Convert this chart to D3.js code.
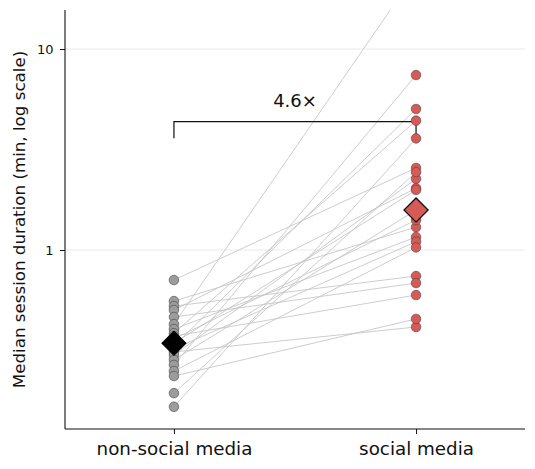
<!DOCTYPE html>
<html>
<head>
<meta charset="utf-8">
<script src="https://cdn.jsdelivr.net/npm/d3@7"></script>
<style>
  body { margin: 0; background: #fff; }
  svg text { font-family: "DejaVu Sans", sans-serif; fill: #111; }
</style>
</head>
<body>
<div id="chart"></div>
<script>
// groups on the x axis
const groups = ["non-social media", "social media"];

// paired medians per participant (minutes), same order in both arrays
const nonSocial = [0.709, 0.557, 0.526, 0.503, 0.464, 0.428, 0.404, 0.386, 0.373, 0.361, 0.344,
                   0.333, 0.322, 0.311, 0.300, 0.284, 0.268, 0.250, 0.236, 0.194, 0.166];
const social    = [2.56, 1.30, 0.742, 2.03, 0.685, 24.0, 1.16, 4.40, 0.597, 1.41, 1.99,
                   5.03, 1.10, 0.414, 2.26, 1.58, 7.42, 1.03, 0.454, 2.44, 3.59];

const yTicks = [1, 10];

const width = 535;
const height = 469;
const margin = {top: 10, right: 10, bottom: 40, left: 65};

const svg = d3.select("#chart").append("svg")
    .attr("width", width)
    .attr("height", height);

const x = d3.scalePoint()
    .domain(groups)
    .range([margin.left, width - margin.right])
    .padding(0.45);

const y = d3.scaleLog()
    .domain([0.1287, 15.63])
    .range([height - margin.bottom, margin.top]);

svg.append("clipPath").attr("id", "plot")
  .append("rect")
    .attr("x", margin.left)
    .attr("y", margin.top)
    .attr("width", width - margin.left - margin.right)
    .attr("height", height - margin.top - margin.bottom);

// grid
svg.append("g")
  .selectAll("line")
  .data(yTicks)
  .join("line")
    .attr("x1", margin.left)
    .attr("x2", width - margin.right)
    .attr("y1", d => y(d))
    .attr("y2", d => y(d))
    .attr("stroke", "#e4e4e4")
    .attr("stroke-width", 0.8);

// paired lines
const pairs = nonSocial.map((v, i) => [v, social[i]]);
svg.append("g")
    .attr("clip-path", "url(#plot)")
  .selectAll("line")
  .data(pairs)
  .join("line")
    .attr("x1", x(groups[0]))
    .attr("x2", x(groups[1]))
    .attr("y1", d => y(d[0]))
    .attr("y2", d => y(d[1]))
    .attr("stroke", "#c4c4c4")
    .attr("stroke-opacity", 0.85)
    .attr("stroke-width", 1);

// ratio bracket
const medN = d3.median(nonSocial);
const medS = d3.median(social);
const bracketY = 4.35;
const bracketLow = 3.6;
svg.append("path")
    .attr("d", d3.line()([
        [x(groups[0]), y(bracketLow)],
        [x(groups[0]), y(bracketY)],
        [x(groups[1]), y(bracketY)],
        [x(groups[1]), y(bracketLow)]
    ]))
    .attr("fill", "none")
    .attr("stroke", "#111")
    .attr("stroke-width", 1.2);

svg.append("text")
    .attr("x", (x(groups[0]) + x(groups[1])) / 2)
    .attr("y", y(bracketY) - 15)
    .attr("text-anchor", "middle")
    .style("font-size", "18px")
    .text((medS / medN).toFixed(1) + "×");

// points
const colors = ["#9c9c9c", "#d65a56"];
[nonSocial, social].forEach((vals, g) => {
  svg.append("g")
    .selectAll("circle")
    .data(vals)
    .join("circle")
      .attr("cx", x(groups[g]))
      .attr("cy", d => y(d))
      .attr("r", 4.8)
      .attr("fill", colors[g])
      .attr("stroke", "#444")
      .attr("stroke-width", 0.6);
});

// median diamonds
const diamond = d3.symbol().type(d3.symbolSquare).size(290);
svg.append("path")
    .attr("d", diamond)
    .attr("transform", `translate(${x(groups[0])},${y(medN)}) rotate(45)`)
    .attr("fill", "#000")
    .attr("stroke", "#000")
    .attr("stroke-width", 1);
svg.append("path")
    .attr("d", diamond)
    .attr("transform", `translate(${x(groups[1])},${y(medS)}) rotate(45)`)
    .attr("fill", colors[1])
    .attr("stroke", "#111")
    .attr("stroke-width", 1.3);

// axes
const yAxis = svg.append("g")
    .attr("transform", `translate(${margin.left},0)`)
    .call(d3.axisLeft(y).tickValues(yTicks).tickFormat(d3.format("d")).tickSize(5).tickPadding(6.5));
yAxis.selectAll("text").style("font-size", "13px");

const xAxis = svg.append("g")
    .attr("transform", `translate(0,${height - margin.bottom})`)
    .call(d3.axisBottom(x).tickSize(5).tickPadding(8));
xAxis.selectAll("text").style("font-size", "18.3px");

[yAxis, xAxis].forEach(a => {
  a.select(".domain").attr("stroke", "#111").attr("stroke-width", 1.1);
  a.selectAll(".tick line").attr("stroke", "#111");
});
// plain spine without end caps
yAxis.select(".domain").attr("d", `M0,${margin.top}V${height - margin.bottom}`);
xAxis.select(".domain").attr("d", `M${margin.left},0H${width - margin.right}`);

svg.append("text")
    .attr("transform", `translate(19,${(margin.top + height - margin.bottom) / 2}) rotate(-90)`)
    .attr("text-anchor", "middle")
    .attr("dy", "0.35em")
    .style("font-size", "16.7px")
    .text("Median session duration (min, log scale)");
</script>
</body>
</html>
